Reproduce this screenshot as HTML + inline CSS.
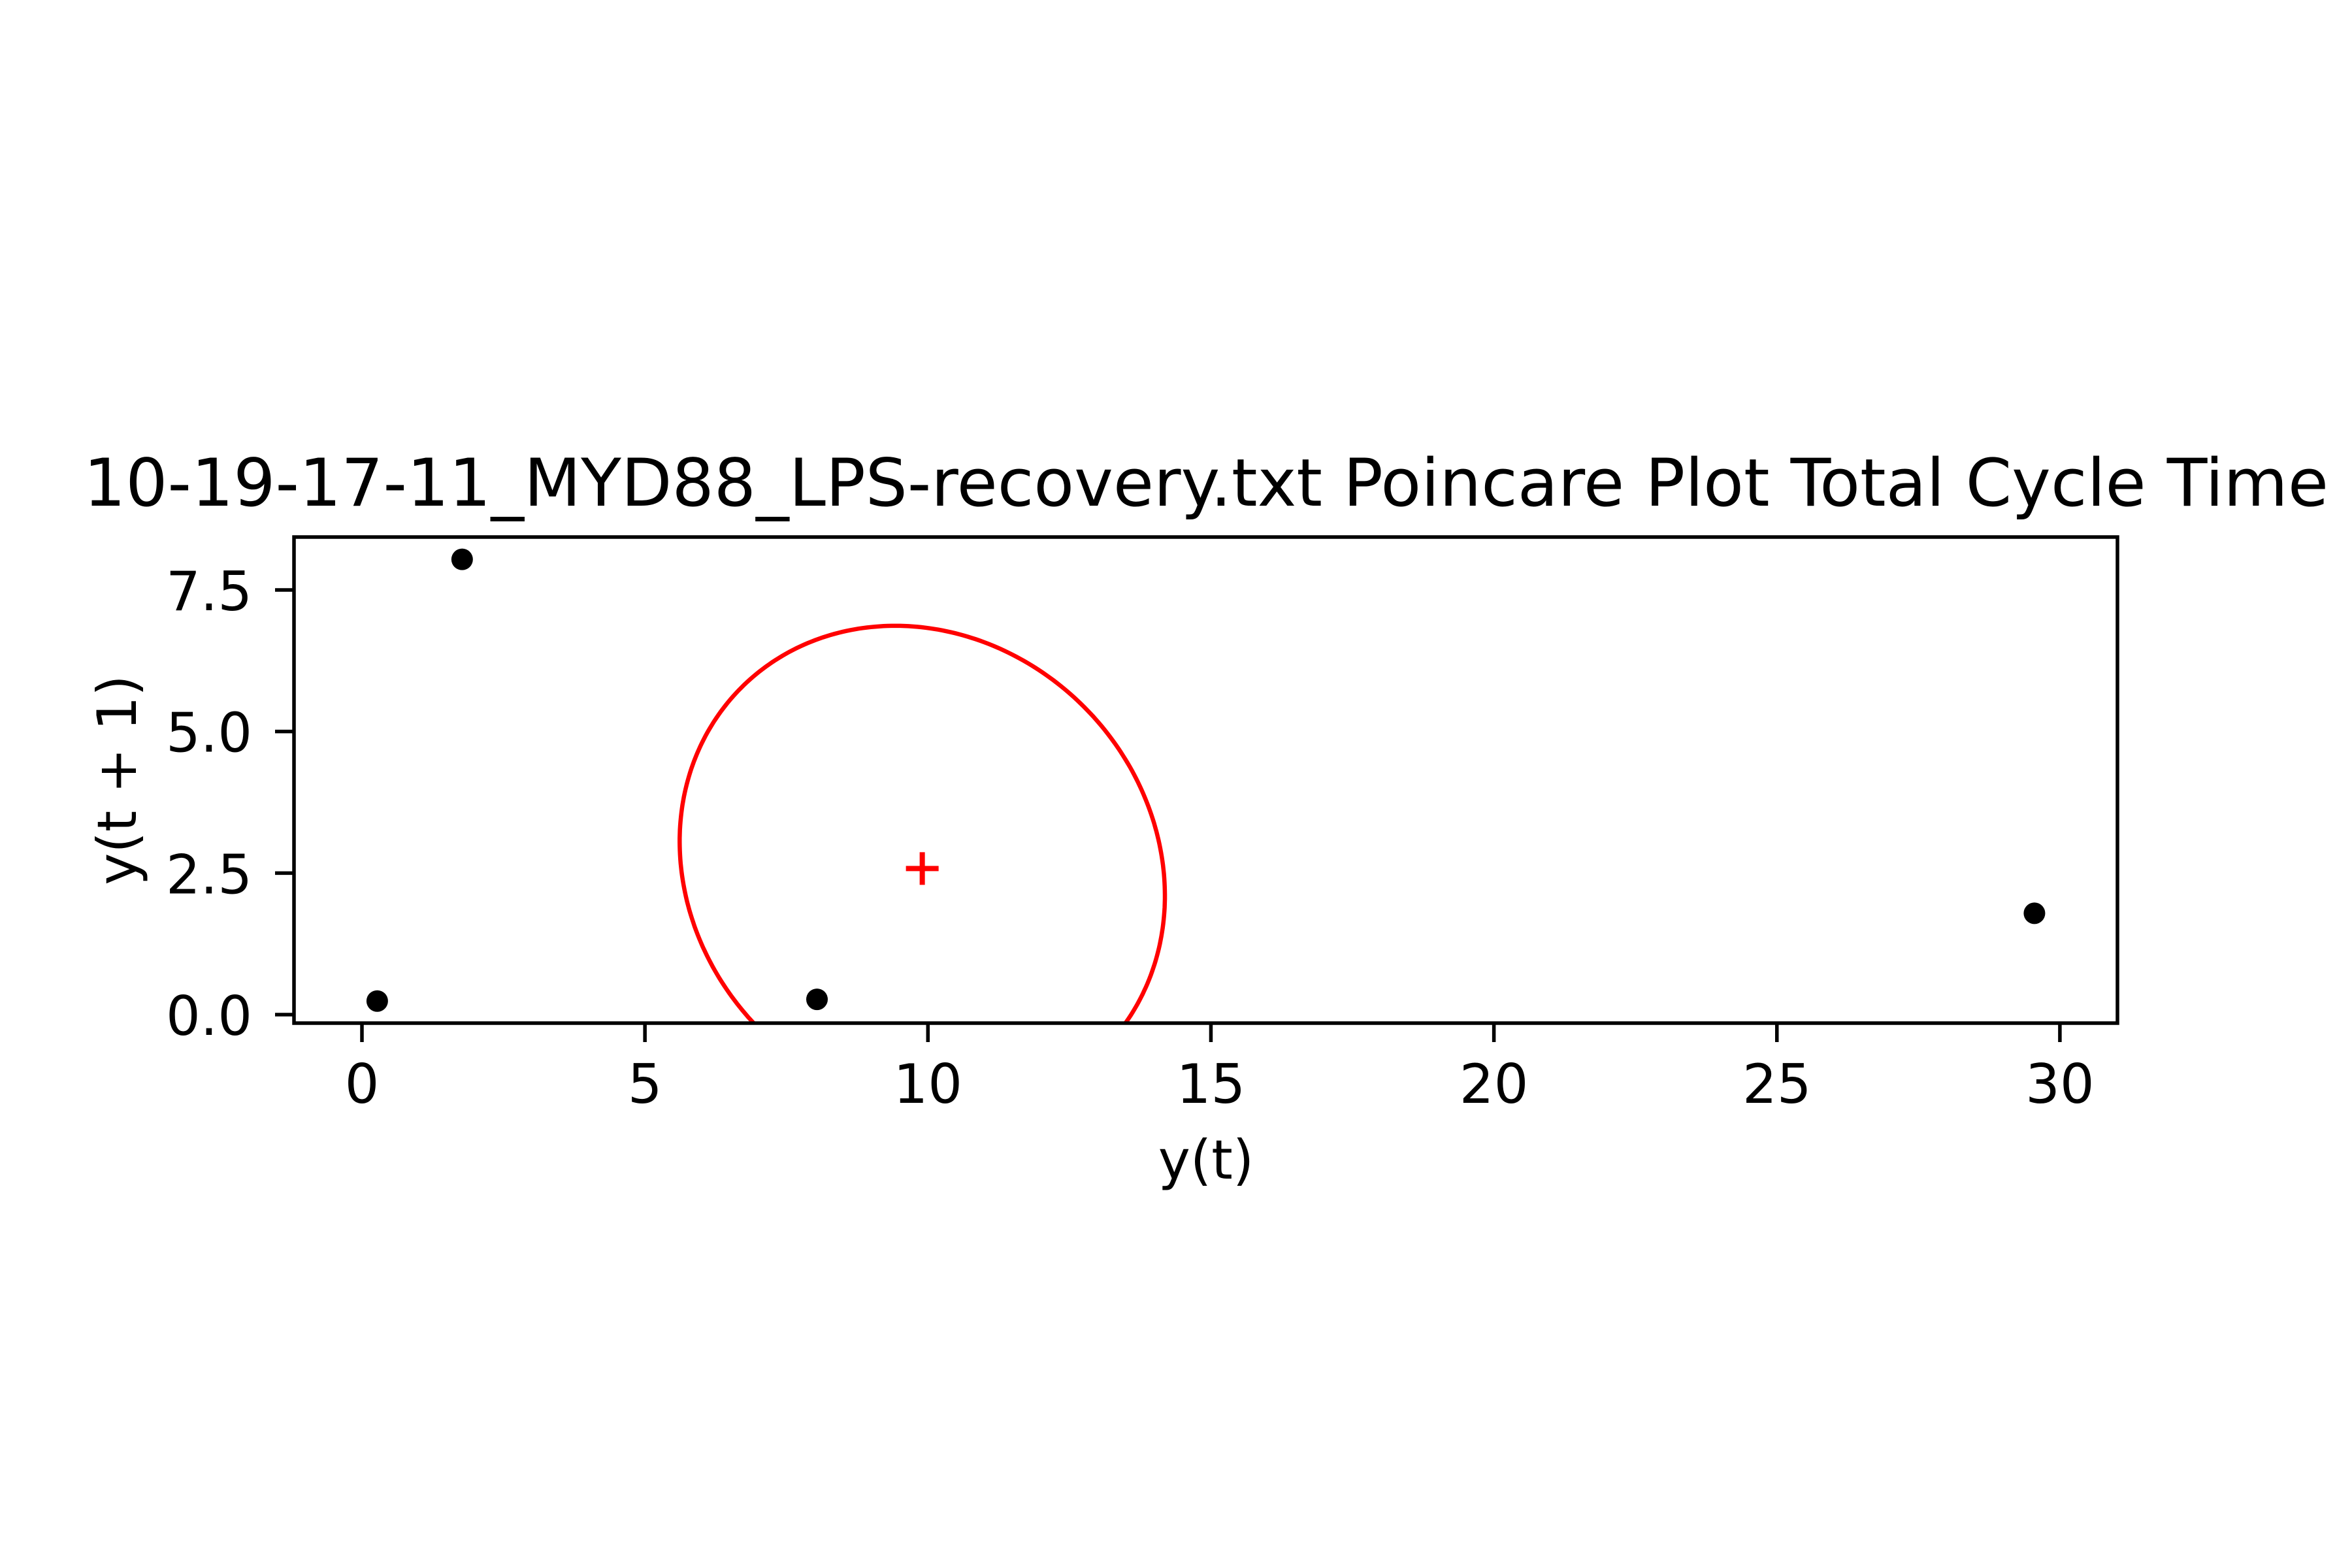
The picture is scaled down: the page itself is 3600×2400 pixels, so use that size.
<!DOCTYPE html>
<html><head><meta charset="utf-8"><style>
html,body{margin:0;padding:0;background:#fff;}
svg{display:block;}
text{font-family:"DejaVu Sans","Liberation Sans",sans-serif;fill:#000;}
</style></head><body>
<svg id="chart" width="3600" height="2400" viewBox="0 0 3600 2400" xmlns="http://www.w3.org/2000/svg">
<rect width="3600" height="2400" fill="#fff"/>
<text x="1846" y="774" font-size="101" text-anchor="middle">10-19-17-11_MYD88_LPS-recovery.txt Poincare Plot Total Cycle Time</text>
<defs><clipPath id="plotclip"><rect x="450" y="822" width="2791" height="744"/></clipPath></defs>
<g id="marks" clip-path="url(#plotclip)"></g>
<g id="axes"></g>
<text x="1846" y="1804" font-size="83" text-anchor="middle">y(t)</text>
<text transform="translate(208,1194) rotate(-90)" font-size="83" text-anchor="middle">y(t + 1)</text>
</svg>
<script>
const xValues = [0.27, 1.77, 8.04, 29.55];
const yValues = [0.24, 8.04, 0.27, 1.79];
const centerPoint = [9.90, 2.58];
const ellipseAxes = [4.04, 4.52];
const ellipseAngleDeg = [45];
const xTicks = [0, 5, 10, 15, 20, 25, 30];
const xTickLabels = ["0", "5", "10", "15", "20", "25", "30"];
const yTicks = [0, 2.5, 5, 7.5];
const yTickLabels = ["0.0", "2.5", "5.0", "7.5"];

const L = 450, R = 3241, T = 822, B = 1566;
const X0 = 554, XS = 86.63, Y0 = 1553, YS = 86.67;
function sx(v){ return X0 + v * XS; }
function sy(v){ return Y0 - v * YS; }
const NS = "http://www.w3.org/2000/svg";
function mk(tag, attrs, parent){
  const e = document.createElementNS(NS, tag);
  for (const k in attrs) e.setAttribute(k, attrs[k]);
  parent.appendChild(e);
  return e;
}
const marks = document.getElementById('marks');
const axes = document.getElementById('axes');

const th = ellipseAngleDeg[0] * Math.PI / 180;
let d = "";
for (let i = 0; i <= 360; i++) {
  const t = i * Math.PI / 180;
  const ex = ellipseAxes[0] * Math.cos(t), ey = ellipseAxes[1] * Math.sin(t);
  const x = centerPoint[0] + ex * Math.cos(th) - ey * Math.sin(th);
  const y = centerPoint[1] + ex * Math.sin(th) + ey * Math.cos(th);
  d += (i ? "L" : "M") + sx(x).toFixed(1) + "," + sy(y).toFixed(1);
}
const ell = mk('path', {d: d + "Z", fill: "none", stroke: "#ff0000", "stroke-width": 6.5}, marks);



for (let i = 0; i < xValues.length; i++) {
  const c = mk('circle', {cx: sx(xValues[i]), cy: sy(yValues[i]), r: 16.5, fill: "#000"}, marks);
  
  
}

const cxp = sx(centerPoint[0]), cyp = sy(centerPoint[1]);
const plus = mk('path', {d: `M${cxp-25},${cyp}H${cxp+25}M${cxp},${cyp-25}V${cyp+25}`, stroke: "#ff0000", "stroke-width": 8, fill: "none"}, marks);



const fr = mk('rect', {x: L, y: T, width: R - L, height: B - T, fill: "none", stroke: "#000", "stroke-width": 5.5}, axes);



for (let i = 0; i < xTicks.length; i++) {
  const x = sx(xTicks[i]);
  const tk = mk('line', {x1: x, y1: B, x2: x, y2: B + 29, stroke: "#000", "stroke-width": 5.5}, axes);
  
  
  const lb = mk('text', {x: x, y: 1688, "font-size": 83, "text-anchor": "middle"}, axes);
  lb.textContent = xTickLabels[i];
  
  
}
for (let i = 0; i < yTicks.length; i++) {
  const y = sy(yTicks[i]);
  const tk = mk('line', {x1: L - 29, y1: y, x2: L, y2: y, stroke: "#000", "stroke-width": 5.5}, axes);
  
  
  const lb = mk('text', {x: 386, y: y + 31, "font-size": 83, "text-anchor": "end"}, axes);
  lb.textContent = yTickLabels[i];
  
  
}
</script>
</body></html>
